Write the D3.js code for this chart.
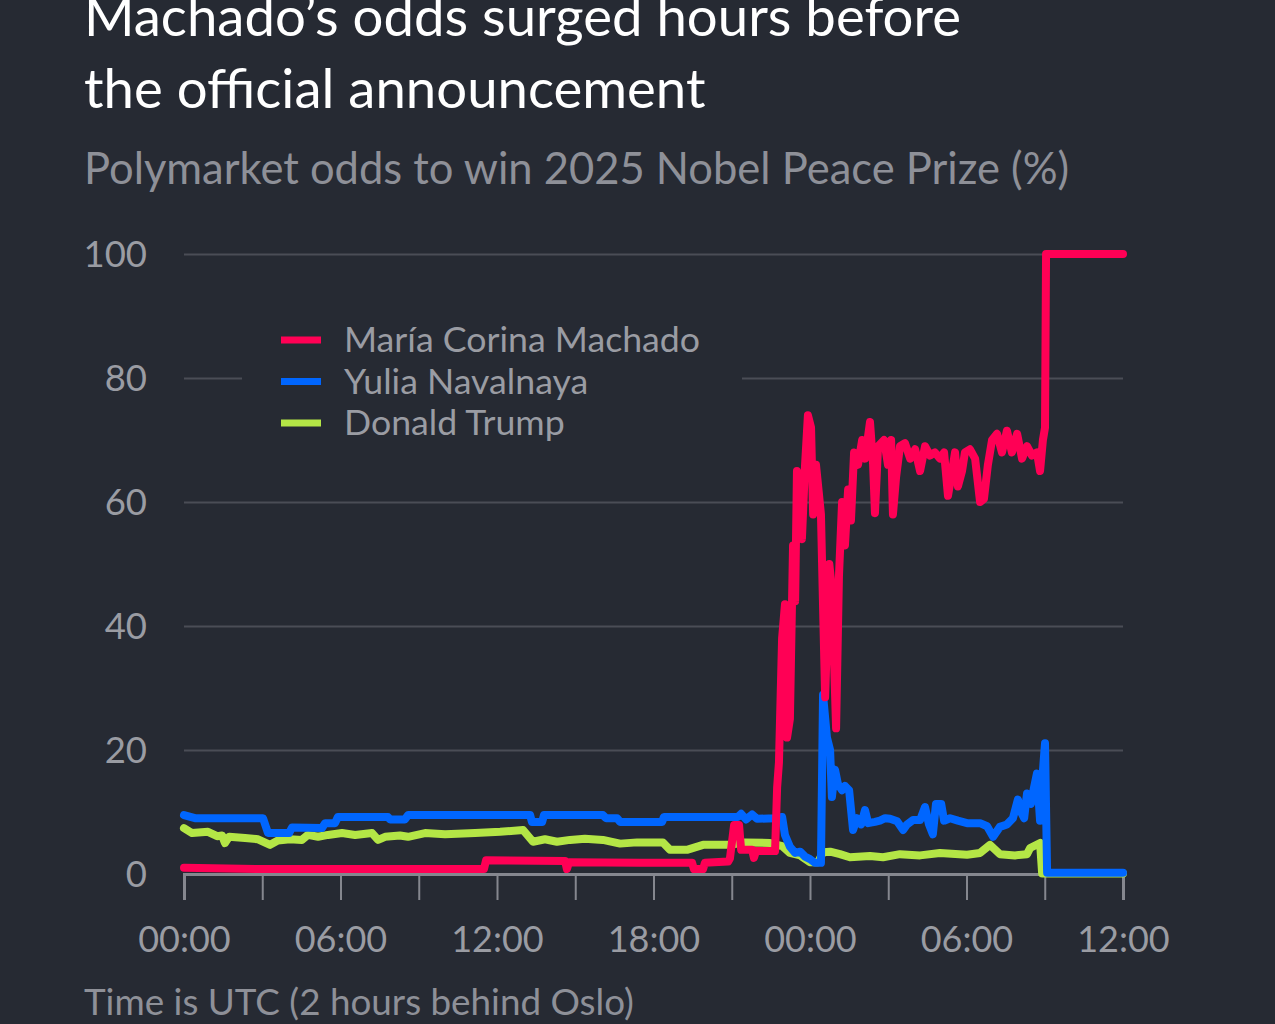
<!DOCTYPE html>
<html>
<head>
<meta charset="utf-8">
<script src="https://cdn.jsdelivr.net/npm/d3@7"></script>
<style>
  html, body { margin: 0; padding: 0; background: #262a33; }
  svg { display: block; }
  text { font-family: Lato, "Open Sans", sans-serif; }
</style>
</head>
<body>
<svg id="chart" width="1275" height="1024"></svg>
<script>
// ---- Data (hours since 00:00 UTC on day 1, odds in %) ----
const titleLines = ["Machado’s odds surged hours before", "the official announcement"];
const subtitle = "Polymarket odds to win 2025 Nobel Peace Prize (%)";
const footnote = "Time is UTC (2 hours behind Oslo)";
const seriesNames = ["María Corina Machado", "Yulia Navalnaya", "Donald Trump"];
const yTicks = [0, 20, 40, 60, 80, 100];
const xTickHours = [0, 6, 12, 18, 24, 30, 36];
const xTickLabels = ["00:00", "06:00", "12:00", "18:00", "00:00", "06:00", "12:00"];
const xMinorTickHours = [0, 3, 6, 9, 12, 15, 18, 21, 24, 27, 30, 33, 36];

const machadoHours = [0.00, 2.99, 10.97, 11.50, 11.58, 14.61, 14.68, 14.76, 17.48, 19.48, 19.55, 19.90, 19.97, 20.86, 20.93, 21.09, 21.28, 21.36, 21.78, 21.85, 21.93, 22.66, 22.74, 22.81, 22.93, 23.04, 23.12, 23.23, 23.35, 23.43, 23.50, 23.62, 23.69, 23.81, 23.92, 24.04, 24.12, 24.23, 24.35, 24.42, 24.58, 24.74, 24.84, 25.00, 25.11, 25.23, 25.34, 25.46, 25.57, 25.69, 25.84, 26.00, 26.11, 26.30, 26.42, 26.49, 26.61, 26.84, 26.99, 27.11, 27.18, 27.30, 27.45, 27.64, 27.84, 28.03, 28.22, 28.41, 28.60, 28.79, 28.98, 29.14, 29.29, 29.41, 29.56, 29.67, 29.83, 29.94, 30.13, 30.33, 30.52, 30.67, 30.82, 30.98, 31.17, 31.36, 31.55, 31.74, 31.94, 32.13, 32.32, 32.51, 32.70, 32.82, 32.93, 33.01, 33.05, 36.00];
const machadoValues = [1.0, 0.8, 0.8, 0.8, 2.2, 2.1, 0.8, 1.9, 1.8, 1.8, 0.8, 0.8, 1.8, 2.0, 2.5, 7.9, 7.9, 3.9, 3.9, 2.6, 3.7, 3.7, 14, 18, 38, 43.5, 22, 25, 53, 44, 65, 61, 54, 66, 74, 72, 58, 66, 61, 58, 28.5, 50, 46, 23.5, 48, 60, 53, 62, 57, 68, 66, 70, 67, 72.9, 66, 58.2, 69, 70, 66, 70, 58, 64, 69, 69.5, 67, 68.5, 65, 69, 67.5, 68, 67, 68, 61, 64, 68, 62.5, 65, 68, 68.5, 67, 60, 60.5, 66, 70, 71, 68, 71.5, 68, 71, 67, 69, 67.5, 68, 65, 70, 72, 100, 100];

const navalnayaHours = [0.00, 0.42, 3.03, 3.22, 4.03, 4.14, 5.29, 5.41, 5.79, 5.90, 7.82, 7.90, 8.47, 8.59, 13.27, 13.34, 13.73, 13.80, 16.06, 16.18, 16.60, 16.72, 18.33, 18.40, 21.24, 21.36, 21.55, 21.78, 21.97, 22.66, 22.93, 23.04, 23.23, 23.43, 23.62, 23.81, 24.00, 24.19, 24.42, 24.50, 24.65, 24.77, 24.84, 24.96, 25.07, 25.23, 25.34, 25.50, 25.65, 25.80, 25.96, 26.11, 26.23, 26.49, 26.68, 26.88, 27.07, 27.34, 27.57, 27.72, 27.95, 28.22, 28.41, 28.56, 28.71, 28.83, 29.03, 29.14, 29.37, 29.67, 30.02, 30.52, 30.79, 31.02, 31.28, 31.55, 31.78, 31.97, 32.09, 32.21, 32.32, 32.47, 32.59, 32.70, 32.82, 32.90, 33.01, 33.09, 36.00];
const navalnayaValues = [9.5, 9.0, 9.0, 6.6, 6.6, 7.5, 7.4, 8.2, 8.2, 9.2, 9.2, 8.8, 8.8, 9.5, 9.5, 8.4, 8.4, 9.5, 9.5, 9.0, 9.0, 8.4, 8.4, 9.2, 9.2, 9.7, 8.8, 9.6, 8.9, 9.0, 9.2, 6.3, 4.4, 3.4, 3.6, 2.8, 2.4, 1.8, 1.8, 28.9, 22, 20, 12.4, 16.8, 14.5, 13.5, 14.2, 13.5, 7.1, 9.0, 8.0, 10.3, 8.2, 8.4, 8.6, 9.0, 8.9, 8.5, 7.1, 8.0, 8.7, 8.7, 10.8, 8.0, 6.4, 11.3, 11.3, 8.6, 9.0, 8.6, 8.2, 8.2, 7.7, 6.0, 7.6, 8.0, 9.0, 12.0, 10.0, 9.0, 13.0, 11.3, 14.0, 16.2, 8.6, 15, 21.1, 0.2, 0.2];

const trumpHours = [0.00, 0.31, 0.92, 1.27, 1.46, 1.57, 1.73, 2.34, 2.84, 3.30, 3.60, 4.06, 4.52, 4.75, 5.14, 5.52, 6.06, 6.56, 7.21, 7.44, 7.71, 8.28, 8.59, 9.24, 10.01, 11.16, 12.12, 13.00, 13.38, 13.84, 14.30, 14.80, 15.37, 16.06, 16.72, 17.37, 18.36, 18.63, 19.28, 19.90, 20.93, 21.51, 22.47, 22.93, 23.23, 23.62, 24.00, 24.31, 24.50, 24.77, 25.15, 25.53, 26.30, 26.80, 27.45, 28.22, 28.98, 30.02, 30.52, 30.90, 31.28, 31.86, 32.32, 32.44, 32.82, 32.90, 36.00];
const trumpValues = [7.4, 6.6, 6.8, 6.1, 6.2, 5.0, 6.0, 5.8, 5.6, 4.7, 5.4, 5.6, 5.5, 6.3, 6.0, 6.3, 6.6, 6.3, 6.6, 5.5, 6.0, 6.2, 6.0, 6.6, 6.4, 6.6, 6.8, 7.1, 5.2, 5.6, 5.2, 5.5, 5.7, 5.5, 4.9, 5.1, 5.1, 3.9, 3.9, 4.7, 4.7, 5.1, 5.0, 4.5, 3.4, 3.0, 1.9, 1.9, 3.5, 3.6, 3.2, 2.7, 2.9, 2.7, 3.2, 3.0, 3.4, 3.1, 3.4, 4.7, 3.2, 3.0, 3.2, 4.2, 5.0, 0.1, 0.1];

const seriesColors = ["#ff0055", "#0066ff", "#b4e646"];

// ---- Layout ----
const svg = d3.select("#chart");
const W = 1275, H = 1024;
const plot = { left: 184, right: 1123, top: 254, bottom: 874 };
const bg = "#262a33";
svg.append("rect").attr("width", W).attr("height", H).attr("fill", bg);

const x = d3.scaleLinear().domain([0, 36]).range([plot.left, plot.right]);
const y = d3.scaleLinear().domain([0, 100]).range([plot.bottom, plot.top]);

// Titles
svg.append("text").attr("x", 84).attr("y", 36)
  .attr("fill", "#ffffff").attr("font-size", 54.5)
  .text(titleLines[0]);
svg.append("text").attr("x", 84).attr("y", 108)
  .attr("fill", "#ffffff").attr("font-size", 54.5)
  .text(titleLines[1]);
svg.append("text").attr("x", 84).attr("y", 184)
  .attr("fill", "#8e9098").attr("font-size", 43.5)
  .text(subtitle);

// Gridlines
const yAxis = d3.axisLeft(y).tickValues(yTicks).tickSize(0).tickPadding(0).tickFormat(d3.format("d"));
const gy = svg.append("g").attr("transform", `translate(${plot.left},0)`).call(yAxis);
gy.select(".domain").remove();
gy.selectAll(".tick text")
  .attr("x", -37).attr("dy", "0.35em")
  .attr("fill", "#9a9ca3").attr("font-size", 36.5)
  .attr("font-family", "Lato, sans-serif");
gy.selectAll(".tick").filter(d => d !== 0).append("line")
  .attr("x1", 0).attr("x2", plot.right - plot.left)
  .attr("stroke", "#4a4d56").attr("stroke-width", 2);

// X axis
const xAxis = d3.axisBottom(x).tickValues(xMinorTickHours).tickSize(26).tickFormat(() => "");
const gx = svg.append("g").attr("transform", `translate(0,${plot.bottom})`).call(xAxis);
gx.select(".domain").attr("stroke", "#85878f").attr("stroke-width", 3);
gx.selectAll(".tick line").attr("stroke", "#85878f").attr("stroke-width", 2);
const gxl = svg.append("g").attr("transform", `translate(0,${plot.bottom})`)
  .call(d3.axisBottom(x).tickValues(xTickHours).tickSize(0).tickPadding(52)
    .tickFormat((d, i) => xTickLabels[i]));
gxl.select(".domain").remove();
gxl.selectAll(".tick text").attr("fill", "#9a9ca3").attr("font-size", 36)
  .attr("font-family", "Lato, sans-serif");

// Lines
const line = d3.line().x(d => x(d[0])).y(d => y(d[1])).curve(d3.curveLinear);
const drawData = [
  { name: seriesNames[2], color: seriesColors[2], pts: d3.zip(trumpHours, trumpValues) },
  { name: seriesNames[1], color: seriesColors[1], pts: d3.zip(navalnayaHours, navalnayaValues) },
  { name: seriesNames[0], color: seriesColors[0], pts: d3.zip(machadoHours, machadoValues) }
];
svg.append("g").selectAll("path").data(drawData).join("path")
  .attr("d", d => line(d.pts))
  .attr("fill", "none")
  .attr("stroke", d => d.color)
  .attr("stroke-width", 8)
  .attr("stroke-linejoin", "round")
  .attr("stroke-linecap", "round");

// Legend (background masks the gridline)
const legend = svg.append("g");
legend.append("rect").attr("x", 242).attr("y", 318).attr("width", 500).attr("height", 130).attr("fill", bg);
seriesNames.forEach((n, i) => {
  const yy = 340 + i * 41.5;
  legend.append("line").attr("x1", 281).attr("x2", 321).attr("y1", yy).attr("y2", yy)
    .attr("stroke", seriesColors[i]).attr("stroke-width", 7);
  legend.append("text").attr("x", 344).attr("y", yy).attr("dy", "0.35em")
    .attr("fill", "#9a9ca3").attr("font-size", 35.7).text(n);
});

// Footnote
svg.append("text").attr("x", 84).attr("y", 1015)
  .attr("fill", "#8e9098").attr("font-size", 36.8)
  .text(footnote);
</script>
</body>
</html>
